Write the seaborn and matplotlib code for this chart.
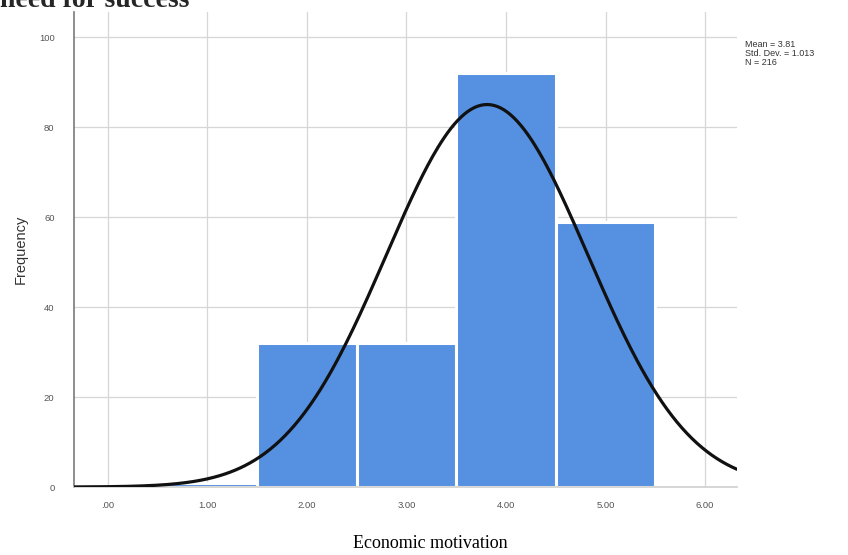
import numpy as np
import pandas as pd
import seaborn as sns
import matplotlib.pyplot as plt

# Histogram data
bin_centers = [1.0, 2.0, 3.0, 4.0, 5.0]
counts = [1, 32, 32, 92, 59]
bin_edges = [0.5, 1.5, 2.5, 3.5, 4.5, 5.5]
x_ticks = [0, 1, 2, 3, 4, 5, 6]
x_tick_labels = [".00", "1.00", "2.00", "3.00", "4.00", "5.00", "6.00"]
y_ticks = [0, 20, 40, 60, 80, 100]

mean_val = 3.81
std_val = 1.013
n_val = 216

df = pd.DataFrame({"value": bin_centers, "count": counts})

sns.set_style("white")
plt.rcParams['font.family'] = ['Liberation Sans', 'DejaVu Sans']

fig = plt.figure(figsize=(8.48, 5.55), dpi=100)
ax = fig.add_axes([0.0873, 0.1225, 0.7817, 0.8555])

sns.histplot(data=df, x="value", weights="count", bins=bin_edges, ax=ax,
             color="#5590e1", alpha=1, edgecolor="white", linewidth=2.2, zorder=2)

# normal curve from the reported mean / std dev, scaled to counts (bin width 1)
xlo, xhi = -0.34, 6.32
xs = np.linspace(xlo, xhi, 400)
ys = n_val * 1.0 / (std_val * np.sqrt(2 * np.pi)) * np.exp(-0.5 * ((xs - mean_val) / std_val) ** 2)
sns.lineplot(x=xs, y=ys, ax=ax, color="#111111", linewidth=2.3, zorder=3)

ax.set_xlim(xlo, xhi)
ax.set_ylim(0, 105.6)
ax.set_xticks(x_ticks)
ax.set_xticklabels(x_tick_labels)
ax.set_yticks(y_ticks)
ax.grid(True, color="#d6d6d6", linewidth=0.9, zorder=0)
ax.set_axisbelow(True)

for s in ["top", "right"]:
    ax.spines[s].set_visible(False)
ax.spines["left"].set_color("#7a7a7a")
ax.spines["left"].set_linewidth(1.2)
ax.spines["bottom"].set_color("#cfcfcf")
ax.spines["bottom"].set_linewidth(1.2)

ax.tick_params(axis="x", length=0, pad=10, labelsize=6.8, labelcolor="#555555")
ax.tick_params(axis="y", length=0, pad=14, labelsize=6.8, labelcolor="#555555")

ax.set_xlabel("")
ax.set_ylabel("Frequency", fontsize=10.5, color="#333333", labelpad=8)

fig.text(430 / 848, 1 - 543 / 555, "Economic motivation", ha="center", va="center",
         fontsize=13, family=["Liberation Serif", "DejaVu Serif"], color="black")

# page title above the chart, cut off by the top edge as in the source image
fig.text(0.0, 1 - 7 / 555, "need for success", ha="left", va="baseline",
         fontsize=20, fontweight="bold", family=["Liberation Serif", "DejaVu Serif"])

fig.text(745 / 848, 1 - 40 / 555, "Mean = 3.81\nStd. Dev. = 1.013\nN = 216",
         ha="left", va="top", fontsize=6.5, color="#333333", linespacing=1.0)

fig.savefig("out.png", dpi=100)
